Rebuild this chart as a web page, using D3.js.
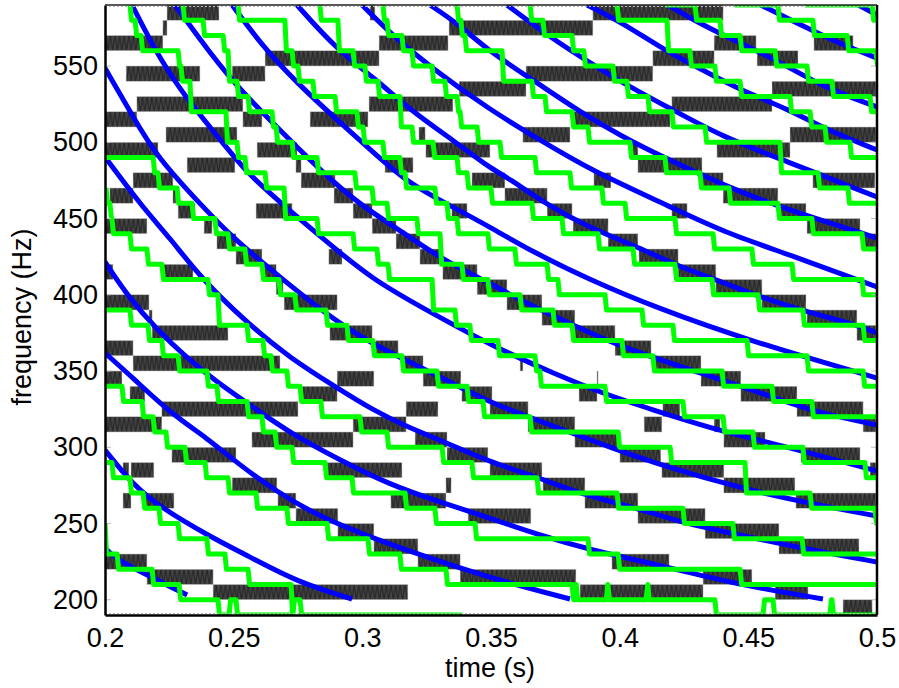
<!DOCTYPE html>
<html>
<head>
<meta charset="utf-8">
<script src="https://cdn.jsdelivr.net/npm/d3@7"></script>
<style>
  html, body { margin: 0; padding: 0; background: #fff; }
  text { font-family: "Liberation Sans", Arial, sans-serif; fill: #000; }
</style>
</head>
<body>
<div id="chart"></div>
<script>
//tick labels
const xTicks = [0.2, 0.25, 0.3, 0.35, 0.4, 0.45, 0.5];
const xTickLabels = ["0.2", "0.25", "0.3", "0.35", "0.4", "0.45", "0.5"];
const yTicks = [200, 250, 300, 350, 400, 450, 500, 550];

//spectrogram bands: centre frequency (Hz), each 10 Hz tall
const bandHz = [585, 575, 565, 555, 545, 535, 525, 515, 505, 495, 485, 475, 465, 455, 445, 435, 425, 415, 405, 395,
  385, 375, 365, 355, 345, 335, 325, 315, 305, 295, 285, 275, 265, 255, 245, 235, 225, 215, 205, 195];

//active time spans of each band, in ms, same order as bandHz
const bandSpans = [
  [[224.1,244.3],[303,304.9],[389.6,440.2]],
  [[222.5,224.1],[333.7,389.6]],
  [[200,222.5],[306.5,333.3],[436.7,453],[475.5,490.7]],
  [[262.2,306.5],[412.9,436.7],[453.4,469.3]],
  [[208.2,236.9],[249.4,262.2],[363.6,412.9]],
  [[337.6,363.6],[459.2,499.6]],
  [[212.4,253.6],[302.6,335.2],[420.3,459.2]],
  [[200,212.4],[253.6,261],[279.7,302.2],[381.9,419.6]],
  [[223.7,251.3],[322,324.4],[362.4,380.7],[466.2,499.6]],
  [[200,220.6],[259.1,274.6],[324.7,349.6],[404.8,407.1],[437.8,466.2]],
  [[231.9,250.5],[274.2,276.2],[308.8,319.7],[407.1,432]],
  [[210.9,226.4],[276.2,289.4],[342.6,355.4],[390,396.6],[432,440.2],[475.1,499.2]],
  [[201.9,210.9],[226.4,227.6],[289,296.4],[355.4,371.8],[440.2,461.5]],
  [[228.4,235],[258.7,272.7],[296.4,303.8],[334.8,340.7],[371.8,381.5],[420.3,426.2],[461.5,472.4]],
  [[200,216.3],[238.5,241.6],[303.8,313.1],[381.9,395.5],[472.8,493.4]],
  [[243.5,250.9],[313.1,322.4],[395.5,407.1],[494.6,499.6]],
  [[250.9,261],[287,292.1],[322.4,331.3],[407.5,422.7]],
  [[200,203.1],[222.5,234.2],[261,266.5],[331.3,344.6],[422.7,437.4]],
  [[266.5,269.2],[344.6,356.2],[437.4,455.3]],
  [[200,217.1],[269.6,290.2],[356.2,369.8],[455.3,472.4]],
  [[217.1,218.3],[369.8,382.6],[472.8,492.2]],
  [[218.3,247.8],[287.4,303.8],[382.6,398.2],[492.2,499.6]],
  [[200,210.9],[305.3,313.9],[398.2,412.2]],
  [[210.9,268],[315.8,323.6],[361.3,362.4],[413.7,431.6]],
  [[200,206.6],[290.2,304.5],[323.6,338.3],[391.2,391.6],[431.6,447.1]],
  [[209.7,215.5],[276.6,290.2],[338.7,350.4],[384.2,391.2],[447.1,468.9]],
  [[222.1,275],[317,329.4],[349.6,364.4],[416.8,423.4],[468.9,494.6]],
  [[200,222.1],[296.4,317],[364.4,382.6],[409.5,416.4],[436.7,439],[494.6,499.6]],
  [[257.1,296.4],[320.5,332.9],[382.6,399],[440.5,456.5]],
  [[226,250.9],[332.9,348.8],[400.1,416],[470.5,493.4]],
  [[207,209.3],[210.1,219],[286.3,315.4],[349.6,369.8],[416.4,440.5],[497.3,499.6]],
  [[249.4,266.8],[332.5,334.5],[370.2,386.5],[440.5,468.1]],
  [[207,210.1],[215.5,226.8],[267.2,274.2],[311.1,332.5],[386.5,407.1],[468.5,499.6]],
  [[274.2,290.5],[341.1,365.5],[407.1,433.2]],
  [[290.5,304.5],[433.2,461.9]],
  [[304.5,321.6],[461.9,493]],
  [[200,216.3],[321.6,338],[397,419.2]],
  [[216.3,242],[338,383],[432.4,451.4]],
  [[242,317.7],[384.6,432.4],[460.4,473.2]],
  [[486.8,498.1]]
];

//blue harmonic curves [ms, Hz]
const blueCurves = [
  [[200,234],[204.7,226.1],[214.8,217.6],[226.4,207.7],[231.9,203.1]],
  [[200,298.2],[210.9,275.3],[221.4,260.8],[239.6,242.5],[256.3,228.1],[274.6,211.7],[296,200.5]],
  [[200,361.8],[210.9,345.4],[225.3,322.5],[239.6,306.1],[251.3,289.7],[266.8,270.7],[283.5,254.3],[304.1,240.5],[322.4,229.4],[349.6,214.3],[380.7,200.5]],
  [[200,421.5],[208.5,399.8],[220.2,376.9],[231.9,358.5],[243.5,342.8],[255.2,329],[273.1,308],[291.3,291.7],[310.8,275.3],[330.2,264.1],[349.6,253.6],[366.3,243.8],[388.5,232.6],[418.4,221.5],[446.8,209.7],[479,200.5]],
  [[200,490.3],[214.8,456.9],[225.3,437.2],[236.9,411.6],[255.2,381.5],[271.9,358.5],[290.2,338.9],[304.1,324.4],[317.4,313.3],[332.9,302.8],[349.6,290.3],[367.9,280.5],[385.8,268.7],[406.7,260.2],[424.6,250.3],[442.9,243.8],[470,234],[500,224.8]],
  [[200,548.7],[210.9,516.6],[220.2,490.3],[238.1,457.5],[249.7,437.2],[268,411.6],[284.7,388.7],[304.1,367.1],[323.6,352],[349.6,329],[367.9,317.9],[399,298.2],[418.4,287.1],[446.8,273.3],[472.8,263.5],[500,254.9]],
  [[210.5,590],[221.4,553.9],[233,525.7],[245.9,499.5],[255.2,479.8],[269.2,458.9],[286.3,434.6],[304.1,409.7],[326.3,388.7],[349.6,367.1],[375.6,347.4],[395.1,334.3],[410.6,325.8],[440.2,310],[462.3,301.5],[500,284.4]],
  [[227.2,590],[240.8,558.5],[252.5,534.3],[266.8,510],[284.7,479.8],[299.1,458.9],[317.4,439.2],[331.3,422.8],[349.6,407.7],[362.4,395.3],[381.9,380.2],[401.3,365.1],[433.9,347.4],[459.6,333],[475.9,323.1],[500,314.6]],
  [[249.4,590],[261.4,562.5],[274.6,538.9],[290.2,514.6],[300.3,499.5],[317.4,473.3],[335.2,457.5],[349.6,444.4],[366.3,428],[388.5,409.7],[414.5,391.3],[449.5,370.3],[500,345.4]],
  [[274.6,590],[290.2,560.5],[305.7,540.8],[318.5,521.2],[336.8,499.5],[349.6,483.1],[356.2,477.2],[371.8,458.9],[388.5,443.8],[407.9,430.7],[423.4,418.2],[437.8,409.7],[454.5,398.5],[472.8,388.7],[492.2,380.2],[500,374.9]],
  [[299.9,590],[310.8,571.6],[326.3,549.3],[349.6,521.2],[369,501.5],[388.5,481.8],[420.7,456.9],[440.2,441.2],[466.2,426.1],[500,405.1]],
  [[326.3,590],[336.8,578.2],[349.6,559.2],[366.3,540.8],[384.6,519.8],[401.3,503.4],[416.8,490.3],[440.2,472],[459.6,458.9],[500,437.2]],
  [[356.2,590],[371.8,570.3],[388.5,552],[404,536.2],[420.7,521.2],[440.2,503.4],[463.5,488.4],[500,464.1]],
  [[387.3,590],[401.3,578.2],[418.4,559.2],[432.4,547.4],[446.8,534.3],[466.2,521.2],[479,509.3],[500,494.9]],
  [[418.8,590],[430,578.9],[440.2,570.3],[461.1,553.9],[479,536.2],[500,523.1]],
  [[454.8,590],[472.8,574.9],[486.8,563.8],[500,555.2]],
  [[492.8,590],[500,583.4]]
];

//green step tracks: each level [ms it lasts until, Hz]
const greenTracks = [
  [[200,490],[218.7,490],[220.6,480],[228,470],[233.8,460],[242.7,450],[247.8,440],[254.4,430],[261,420],[267.6,410],[273.8,400],[285.9,390],[294,380],[304.1,370],[315.4,360],[329,350],[340.7,340],[346.9,330],[365.2,320],[399.4,310],[419.6,300],[448.7,290],[474,270],[499.2,260],[500,250]],
  [[200.4,470],[201.9,460],[202.7,450],[209.7,440],[216.3,430],[222.1,420],[240,410],[243.9,400],[255.2,380],[261.4,370],[264.5,360],[270.7,350],[275.8,340],[283.9,330],[299.1,320],[309.6,310],[331,300],[342.6,290],[367.9,280],[399,270],[424.6,260],[444,250],[470.9,240],[500,230]],
  [[200,390],[209.7,390],[216.7,380],[222.1,370],[228.4,360],[239.6,350],[243.5,340],[255.2,330],[261,320],[266.1,310],[272.7,300],[285.5,290],[296,280],[316.6,270],[328.2,260],[343.8,250],[387.7,240],[399.4,230],[446.8,220],[500,210]],
  [[200,340],[206.6,340],[214.4,330],[218.7,320],[223.7,310],[231.1,300],[238.9,290],[247.8,280],[258.7,270],[270.7,260],[286.3,250],[302.2,240],[314.6,230],[332.5,220],[381.5,210],[382.4,200],[383.1,210],[394.8,200],[395.4,210],[410.3,200],[410.9,210],[437,200],[455.7,190],[459.6,200],[481.7,190],[482.5,200],[500,190]],
  [[200,290],[202.7,290],[209.7,280],[214.8,270],[221,260],[228.4,250],[239.6,240],[246.6,230],[255.6,220],[272.3,210],[273,190],[275.8,200],[338.7,190]],
  [[200,250],[204.7,230],[218.3,220],[228.8,210],[243.9,200],[248.2,190],[250.9,200],[272.3,190]],
  [[209.7,590],[211.7,580],[214,570],[228.4,560],[229.5,550],[233,540],[247,520],[251.3,500],[254.4,490],[262.2,480],[269.6,470],[282.4,450],[296.4,440],[305.7,430],[310,420],[327.1,410],[336,390],[341.8,380],[352.7,370],[367.1,360],[369,350],[394.3,340],[424.6,330],[440.2,320],[451.8,310],[471.2,300],[495.3,290],[500,280]],
  [[230.3,590],[238.1,580],[245.9,570],[247.8,560],[251.3,540],[255.6,530],[264.9,520],[266.5,510],[272.7,500],[282.4,490],[297.1,480],[303.8,470],[309.6,460],[321.2,450],[330.2,440],[338.7,420],[348.8,410],[361.3,400],[374.1,390],[381.5,380],[400.9,370],[412.9,360],[439.8,350],[459.2,340],[474.7,330],[500,320]],
  [[251.7,590],[269.9,580],[272.7,560],[275,550],[280.8,540],[289.4,530],[297.9,520],[300.3,510],[308,500],[314.6,490],[316.6,480],[328.2,470],[332.9,460],[336.8,450],[348.8,440],[359.3,430],[371.8,420],[376,410],[394.3,400],[408.7,390],[420.7,380],[449.5,370],[472.8,360],[494.6,350],[500,340]],
  [[283.5,590],[290.5,580],[296.4,560],[301,550],[306.1,540],[314.6,530],[319.3,510],[327.5,500],[336.8,490],[340.7,480],[350,470],[365.9,460],[377.6,450],[391.6,440],[405.2,430],[421.5,420],[435.9,410],[453.8,400],[471.2,390],[494.6,380],[500,370]],
  [[308,590],[309.6,580],[315.4,570],[319.3,560],[327.1,550],[332.1,540],[336.8,530],[338,520],[344.6,510],[353.5,500],[367.1,490],[380.7,480],[393.1,470],[402.1,460],[421.5,450],[436.3,440],[451.4,430],[467,420],[494.2,410],[500,400]],
  [[336.8,590],[338.3,580],[339.9,570],[354.3,560],[365.9,540],[371,530],[381.5,520],[387.7,510],[404,500],[417.6,490],[431.2,480],[442.5,470],[461.5,460],[474.7,450],[494.2,440],[500,430]],
  [[365.2,590],[370.2,580],[381.5,570],[386.1,560],[397.4,550],[402.8,540],[411,530],[420.3,520],[433.2,510],[462.3,500],[477.1,480],[488.7,470],[500,460]],
  [[399,590],[418.4,580],[427.3,560],[437,550],[446.8,540],[466.2,530],[474,520],[479.8,510],[489.5,500],[500,490]],
  [[417.6,590],[429.3,590],[439,580],[446.8,570],[460.4,560],[472.8,550],[482.5,540],[497.3,530],[500,520]],
  [[444.8,590],[461.5,590],[475.1,580],[488.4,570],[499.6,560],[500,550]],
  [[472,590],[498.1,590],[500,580]]
];

const width = 899, height = 688;
const margin = { top: 5, right: 22, bottom: 73, left: 105 };
const riser = 0.6; //risers of the green steps lean a little

const svg = d3.select("#chart").append("svg")
  .attr("width", width).attr("height", height)
  .style("display", "block");

const x = d3.scaleLinear().domain([0.2, 0.5]).range([margin.left, width - margin.right]);
const y = d3.scaleLinear().domain([190, 590]).range([height - margin.bottom, margin.top]);

const defs = svg.append("defs");
defs.append("clipPath").attr("id", "plot").append("rect")
  .attr("x", margin.left).attr("y", margin.top)
  .attr("width", width - margin.left - margin.right)
  .attr("height", height - margin.top - margin.bottom + 0.6);

//the dark zigzag texture of the spectrogram blocks
const hatch = defs.append("pattern").attr("id", "hatch")
  .attr("patternUnits", "userSpaceOnUse")
  .attr("width", 4.6).attr("height", 15.25)
  .attr("y", margin.top);
hatch.append("rect").attr("width", 4.6).attr("height", 15.25).attr("fill", "#444");
hatch.append("path").attr("d", "M0,0L2.3,15.25L4.6,0").attr("fill", "none")
  .attr("stroke", "#282828").attr("stroke-width", 1.2);

const plot = svg.append("g").attr("clip-path", "url(#plot)");

//blocks
bandHz.forEach((hz, i) => {
  plot.append("g").selectAll("rect").data(bandSpans[i]).join("rect")
    .attr("x", d => x(d[0] / 1000))
    .attr("width", d => x(d[1] / 1000) - x(d[0] / 1000))
    .attr("y", y(hz + 5))
    .attr("height", y(hz - 5) - y(hz + 5))
    .attr("fill", "url(#hatch)")
    .attr("stroke", "#c4c4c4").attr("stroke-width", 0.5);
});

//blue curves
const blueLine = d3.line()
  .x(d => x(d[0] / 1000))
  .y(d => y(d[1]))
  .curve(d3.curveBasis);

plot.append("g").selectAll("path").data(blueCurves).join("path")
  .attr("d", blueLine)
  .attr("fill", "none")
  .attr("stroke", "#0000ff")
  .attr("stroke-width", 5);

//green steps
const greenLine = d3.line()
  .x(d => x(d[0] / 1000))
  .y(d => y(d[1]));

function stepPoints(track) {
  const pts = [];
  track.forEach((d, i) => {
    pts.push(d);
    if (i < track.length - 1) pts.push([d[0] + riser, track[i + 1][1]]);
  });
  return pts;
}

plot.append("g").selectAll("path").data(greenTracks).join("path")
  .attr("d", d => greenLine(stepPoints(d)))
  .attr("fill", "none")
  .attr("stroke", "#00ff00")
  .attr("stroke-width", 5)
  .attr("stroke-linejoin", "round");

//faint inner ticks and dotted edges
const inner = svg.append("g").attr("stroke", "#bdbdbd").attr("fill", "none");
inner.selectAll(".tl").data(yTicks).join("line")
  .attr("x1", margin.left).attr("x2", margin.left + 6).attr("y1", d => y(d)).attr("y2", d => y(d));
inner.selectAll(".tr").data(yTicks).join("line")
  .attr("x1", width - margin.right - 6).attr("x2", width - margin.right).attr("y1", d => y(d)).attr("y2", d => y(d));
inner.append("line").attr("x1", margin.left).attr("x2", width - margin.right)
  .attr("y1", height - margin.bottom - 1.5).attr("y2", height - margin.bottom - 1.5)
  .attr("stroke-dasharray", "2,2");
inner.append("line").attr("x1", margin.left).attr("x2", width - margin.right)
  .attr("y1", margin.top + 1.5).attr("y2", margin.top + 1.5)
  .attr("stroke-dasharray", "2,2");

//axes
const xAxis = svg.append("g")
  .attr("transform", "translate(0," + (height - margin.bottom) + ")")
  .call(d3.axisBottom(x).tickValues(xTicks).tickFormat((d, i) => xTickLabels[i]).tickSize(0).tickPadding(13));
const yAxis = svg.append("g")
  .attr("transform", "translate(" + margin.left + ",0)")
  .call(d3.axisLeft(y).tickValues(yTicks).tickSize(0).tickPadding(7));

[xAxis, yAxis].forEach(a => {
  a.selectAll("text").style("font-size", "27px").style("font-family", '"Liberation Sans", Arial, sans-serif');
  a.select(".domain").attr("stroke", "#000").attr("stroke-width", 2.5);
});

//box
svg.append("line").attr("x1", width - margin.right).attr("x2", width - margin.right)
  .attr("y1", margin.top).attr("y2", height - margin.bottom).attr("stroke", "#000").attr("stroke-width", 2.5);
svg.append("line").attr("x1", margin.left).attr("x2", width - margin.right)
  .attr("y1", margin.top).attr("y2", margin.top).attr("stroke", "#222").attr("stroke-width", 1.5);

//labels
svg.append("text").attr("x", 490).attr("y", 677).attr("text-anchor", "middle")
  .style("font-size", "27px").text("time (s)");
svg.append("text").attr("transform", "translate(31,317) rotate(-90)").attr("text-anchor", "middle")
  .style("font-size", "27px").text("frequency (Hz)");
</script>
</body>
</html>
